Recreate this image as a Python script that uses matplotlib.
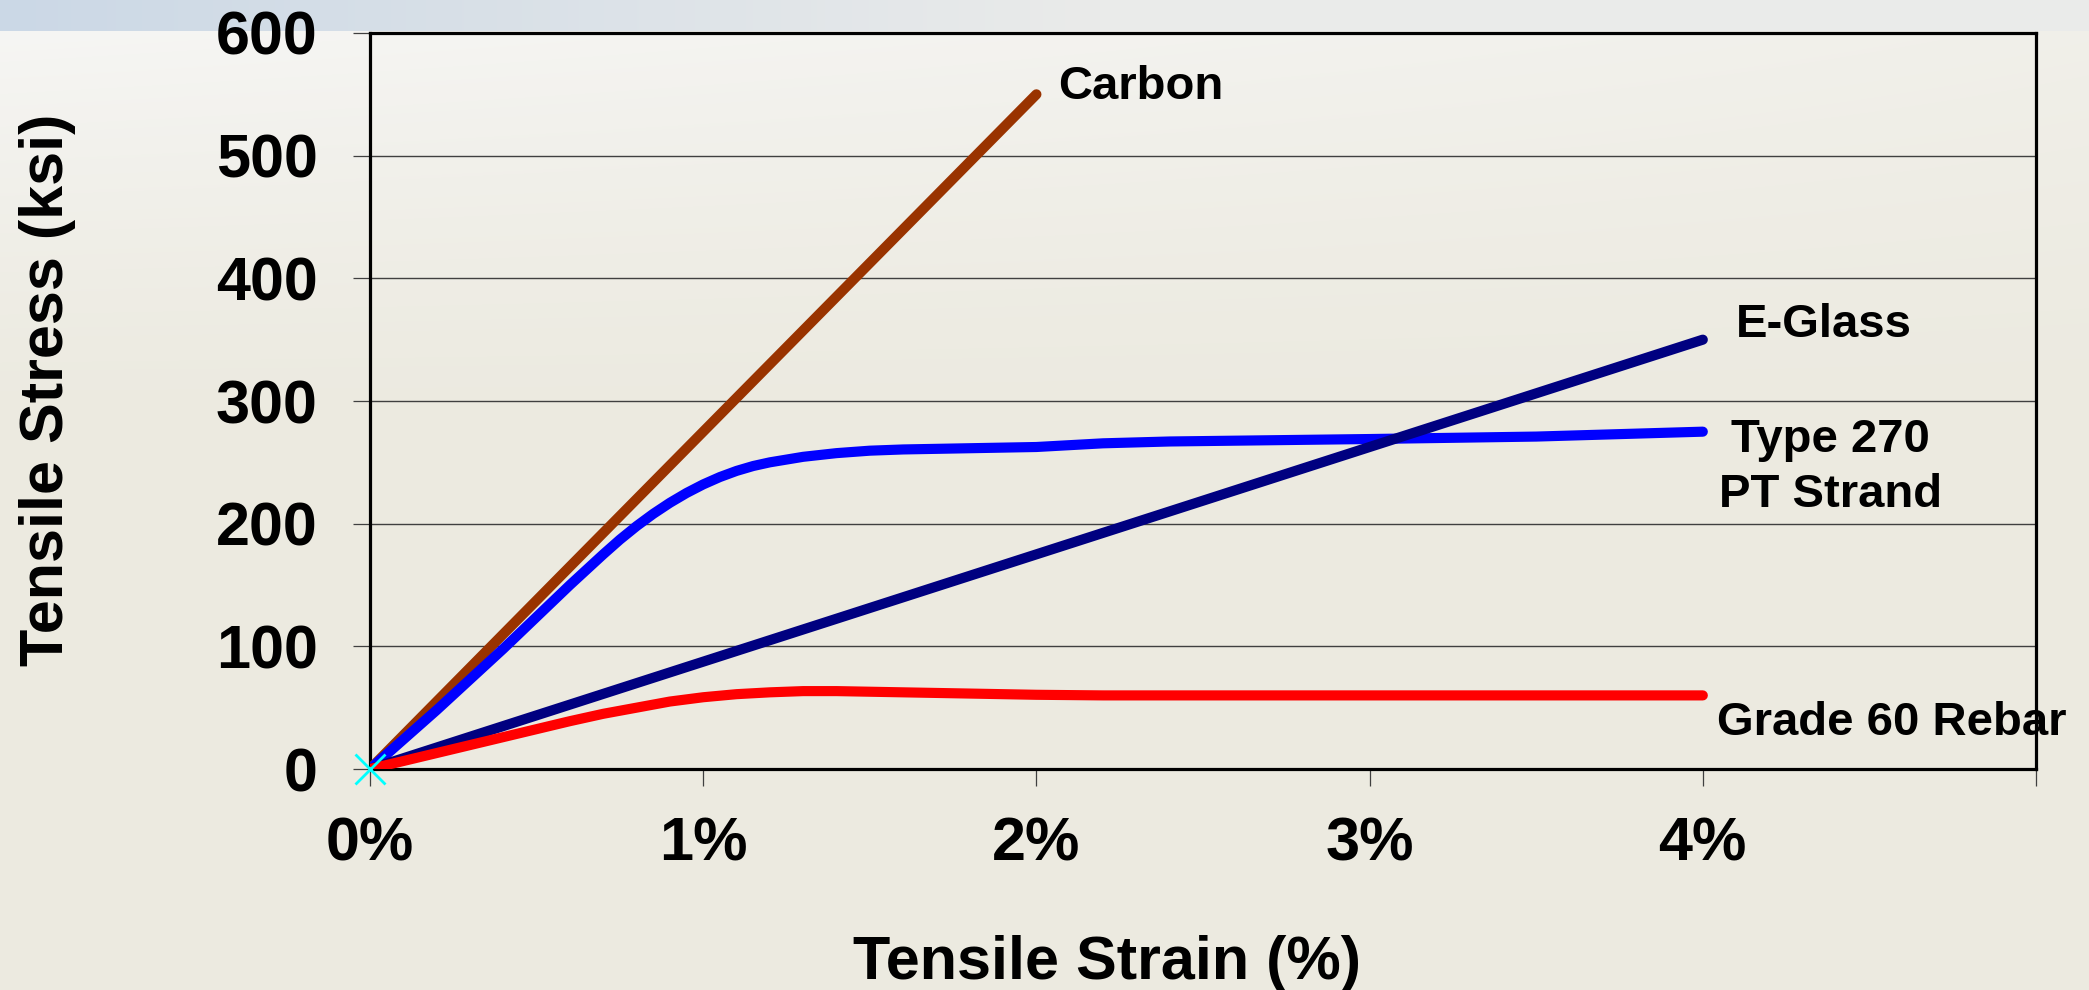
import numpy as np
import matplotlib
matplotlib.use("Agg")
import matplotlib.pyplot as plt

plt.rcParams['font.family'] = ['Liberation Sans', 'DejaVu Sans']
plt.rcParams['font.weight'] = 'bold'

# ---- data ----
carbon_strain = [0, 2.0]
carbon_stress = [0, 550]

glass_strain = [0, 4.0]
glass_stress = [0, 350]

strand_strain = [0, 0.1, 0.2, 0.3, 0.4, 0.5, 0.6, 0.7, 0.75, 0.8, 0.85, 0.9, 0.95, 1.0,
                 1.05, 1.1, 1.15, 1.2, 1.3, 1.4, 1.5, 1.6, 1.8, 2.0, 2.1, 2.2, 2.4, 2.7,
                 3.0, 3.5, 4.0]
strand_stress = [0, 24, 48, 73, 98, 124, 150, 175, 187, 198, 208, 217, 225, 232,
                 238, 243, 247, 250, 254.5, 257.5, 259.5, 260.5, 261.5, 262.5, 264, 265.5,
                 267, 268, 269, 271, 275]

rebar_strain = [0, 0.1, 0.2, 0.3, 0.4, 0.5, 0.6, 0.7, 0.8, 0.9, 1.0, 1.1, 1.2, 1.3,
                1.4, 1.5, 1.6, 1.8, 2.0, 2.2, 3.0, 4.0]
rebar_stress = [0, 6.5, 13, 19.5, 26, 32.5, 39, 45, 50, 55, 58.5, 61, 62.5, 63.5,
                63.5, 63, 62.5, 61.5, 60.5, 60, 60, 60]

x_ticks = [0, 1, 2, 3, 4, 5]
x_tick_labels = ['0%', '1%', '2%', '3%', '4%', '']
y_ticks = [0, 100, 200, 300, 400, 500, 600]

W, H = 2089, 990
fig = plt.figure(figsize=(W / 100, H / 100), dpi=100)

# ---- background ----
bg = fig.add_axes([0, 0, 1, 1], zorder=-10)
yy, xx = np.mgrid[0:H, 0:W].astype(float)
beige = np.array([236, 234, 224]) / 255
white = np.array([247, 247, 246]) / 255
w = np.clip(1 - yy / 430, 0, 1) ** 1.3 * np.clip(1 - xx / 2900, 0, 1) ** 0.6
img = beige[None, None, :] * (1 - w[..., None]) + white[None, None, :] * w[..., None]
band_blue = np.array([203, 216, 230]) / 255
band_light = np.array([234, 235, 234]) / 255
a = np.clip(1 - xx / 1100, 0, 1)[..., None]
band = band_blue * a + band_light * (1 - a)
mask = yy < 31
img[mask] = band[mask]
bg.imshow(img, aspect='auto', extent=[0, 1, 0, 1], origin='upper')
bg.axis('off')

# ---- main axes ----
ax = fig.add_axes([370 / W, 1 - 769 / H, 1666 / W, 736 / H])
ax.set_facecolor('none')

lw = 7.3
ax.plot(carbon_strain, carbon_stress, color='#993300', lw=lw, solid_capstyle='round', zorder=3)
ax.plot(strand_strain, strand_stress, color='#0000FF', lw=lw, solid_capstyle='round',
        solid_joinstyle='round', zorder=3)
ax.plot(glass_strain, glass_stress, color='#000080', lw=lw, solid_capstyle='round', zorder=3)
ax.plot(rebar_strain, rebar_stress, color='#FF0000', lw=lw, solid_capstyle='round',
        solid_joinstyle='round', zorder=3)
ax.plot([0], [0], marker='x', color='#00FFFF', markersize=21, mew=2, clip_on=False, zorder=5)

ax.set_xlim(0, 5)
ax.set_ylim(0, 600)
ax.set_xticks(x_ticks)
ax.set_xticklabels(x_tick_labels)
ax.set_yticks(y_ticks)
ax.grid(axis='y', color='#404040', lw=1.0)
ax.set_axisbelow(True)

for s in ax.spines.values():
    s.set_linewidth(2.3)
    s.set_color('black')

ax.tick_params(axis='both', direction='out', length=12.5, width=0.9, color='#404040',
               labelsize=44)
ax.tick_params(axis='y', pad=25)
ax.tick_params(axis='x', pad=22)
for lab in ax.get_xticklabels() + ax.get_yticklabels():
    lab.set_fontweight('bold')

fig.text(1107 / W, 1 - 979 / H, 'Tensile Strain (%)', fontsize=44, fontweight='bold',
         ha='center', va='baseline')
fig.text(48 / W, 1 - 390 / H, 'Tensile Stress (ksi)', fontsize=44, fontweight='bold',
         ha='center', va='center', rotation=90)

fs = 34
ax.text(2.065, 546, 'Carbon', fontsize=fs, fontweight='bold', ha='left', va='baseline')
ax.text(4.10, 352, 'E-Glass', fontsize=fs, fontweight='bold', ha='left', va='baseline')
ax.text(4.382, 258.4, 'Type 270', fontsize=fs, fontweight='bold', ha='center', va='baseline')
ax.text(4.382, 213.6, 'PT Strand', fontsize=fs, fontweight='bold', ha='center', va='baseline')
ax.text(4.043, 27.7, 'Grade 60 Rebar', fontsize=fs, fontweight='bold', ha='left',
        va='baseline', zorder=2)

fig.savefig('out.png', dpi=100)
